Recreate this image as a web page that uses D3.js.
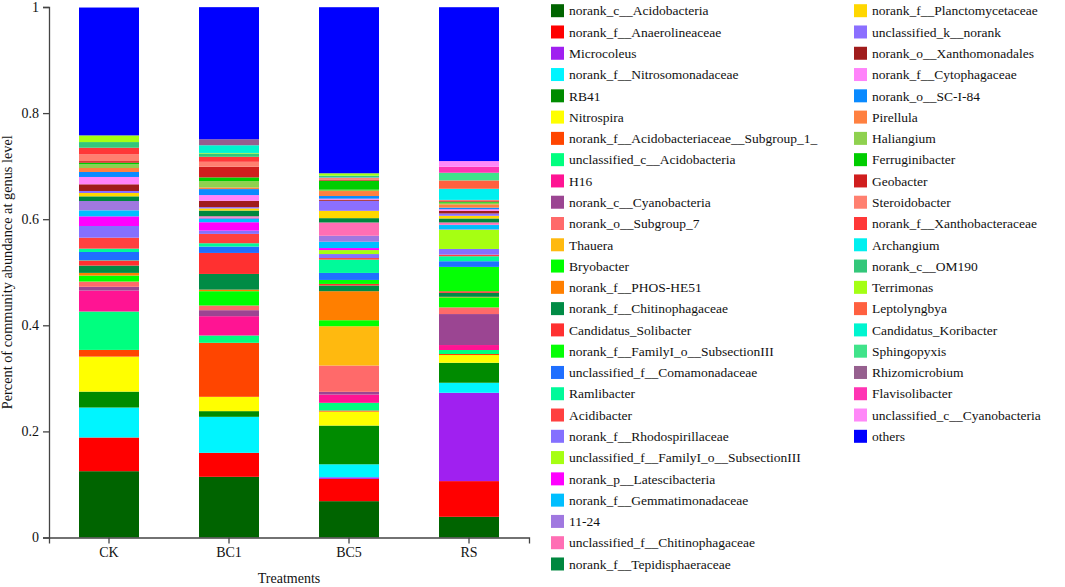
<!DOCTYPE html>
<html>
<head>
  <meta charset="utf-8">
  <title>Community abundance at genus level</title>
  <script src="https://d3js.org/d3.v7.min.js"></script>
  <style>
    body { margin: 0; background: #fff; }
    text { font-family: "Liberation Serif", "Times New Roman", serif; fill: #111; }
    .axis path, .axis line { stroke: #444; stroke-width: 1.3; }
    .axis text { font-size: 14px; }
  </style>
</head>
<body>
<script>
// Treatments on the x axis
var treatments = ["CK", "BC1", "BC5", "RS"];

// Genera, bottom to top of each bar (same order as the legend)
var genera = [
  "norank_c__Acidobacteria", "norank_f__Anaerolineaceae", "Microcoleus",
  "norank_f__Nitrosomonadaceae", "RB41", "Nitrospira",
  "norank_f__Acidobacteriaceae__Subgroup_1_", "unclassified_c__Acidobacteria", "H16",
  "norank_c__Cyanobacteria", "norank_o__Subgroup_7", "Thauera",
  "Bryobacter", "norank_f__PHOS-HE51", "norank_f__Chitinophagaceae",
  "Candidatus_Solibacter", "norank_f__FamilyI_o__SubsectionIII", "unclassified_f__Comamonadaceae",
  "Ramlibacter", "Acidibacter", "norank_f__Rhodospirillaceae",
  "unclassified_f__FamilyI_o__SubsectionIII", "norank_p__Latescibacteria", "norank_f__Gemmatimonadaceae",
  "11-24", "unclassified_f__Chitinophagaceae", "norank_f__Tepidisphaeraceae",
  "norank_f__Planctomycetaceae", "unclassified_k__norank", "norank_o__Xanthomonadales",
  "norank_f__Cytophagaceae", "norank_o__SC-I-84", "Pirellula",
  "Haliangium", "Ferruginibacter", "Geobacter",
  "Steroidobacter", "norank_f__Xanthobacteraceae", "Archangium",
  "norank_c__OM190", "Terrimonas", "Leptolyngbya",
  "Candidatus_Koribacter", "Sphingopyxis", "Rhizomicrobium",
  "Flavisolibacter", "unclassified_c__Cyanobacteria", "others"
];

// Relative abundance per treatment, in the order of `genera`
var ckValues = [
  0.125, 0.0635, 0, 0.0565, 0.030, 0.066,
  0.0126, 0.0724, 0.0396, 0.007, 0.0094, 0.0005,
  0.0113, 0.005, 0.0138, 0.0094, 0.0005, 0.0157,
  0.0063, 0.0207, 0.022, 0, 0.0182, 0.0113,
  0.0176, 0, 0.0088, 0.0063, 0.0038, 0.0126,
  0.0138, 0.0094, 0.0075, 0.007, 0.003, 0.003,
  0.0126, 0.0126, 0, 0.0107, 0.0126, 0,
  0, 0, 0, 0, 0, 0.241
];
var bc1Values = [
  0.1144, 0.0452, 0, 0.0679, 0.0107, 0.027,
  0.1018, 0.0138, 0.0364, 0.0113, 0.0088, 0,
  0.027, 0.003, 0.0295, 0.0396, 0, 0.012,
  0.0063, 0.0176, 0.0063, 0, 0.0157, 0.0063,
  0.0025, 0.0025, 0.0107, 0.004, 0.0025, 0.012,
  0.0107, 0.0113, 0.003, 0.012, 0.007, 0.020,
  0.0094, 0.0094, 0, 0.0063, 0.001, 0,
  0.0145, 0, 0.0113, 0, 0, 0.249
];
var bc5Values = [
  0.0685, 0.042, 0.003, 0.0245, 0.073, 0.0264,
  0.002, 0.0145, 0.0157, 0.005, 0.0496, 0.0741,
  0.0113, 0.0547, 0.0107, 0.003, 0.0075, 0.0132,
  0.0251, 0.003, 0.0075, 0.0075, 0.0038, 0.0119,
  0.0113, 0.025, 0.0082, 0.0138, 0.0189, 0.002,
  0.002, 0.005, 0.0094, 0.0025, 0.017, 0.002,
  0.0025, 0.0015, 0.001, 0.0025, 0.0045, 0,
  0, 0, 0, 0, 0, 0.313
];
var rsValues = [
  0.039, 0.0673, 0.1665, 0.0189, 0.0377, 0.0145,
  0.002, 0.0075, 0.0094, 0.0584, 0.0126, 0,
  0.0189, 0.001, 0.0075, 0.003, 0.0459, 0.0107,
  0.0094, 0.003, 0.0107, 0.0364, 0.0005, 0.0082,
  0.0005, 0.0044, 0.0075, 0.005, 0.0044, 0.005,
  0.003, 0.003, 0.0063, 0.003, 0.002, 0.002,
  0.0007, 0.0006, 0.021, 0, 0, 0.0157,
  0, 0.0145, 0, 0.0113, 0.0107, 0.290
];

// Palette, one colour per genus
var palette = [
  "#006400", "#FF0000", "#A020F0", "#00F5FF", "#008B00", "#FFFF00",
  "#FF4500", "#00FF7F", "#FF1493", "#9B4592", "#FF6A6A", "#FFB90F",
  "#00FF00", "#FF7F00", "#008B45", "#FF3030", "#05FF05", "#1F6FFF",
  "#00FA9A", "#FF4040", "#8470FF", "#A6FF12", "#FF00FF", "#00BFFF",
  "#A078E0", "#FF6EB4", "#00873F", "#FFD700", "#8B6FFF", "#A01C1C",
  "#FF83FA", "#0A8AFF", "#FF8040", "#8FD14F", "#00CD00", "#D01E1E",
  "#FF8070", "#FF3838", "#00F0F0", "#33C77A", "#A4FF14", "#FF6040",
  "#00F5D0", "#40E38A", "#96608F", "#FF34B3", "#FF88F8", "#0000FF"
];

var yTickValues = [0, 0.2, 0.4, 0.6, 0.8, 1];

var valuesByTreatment = [ckValues, bc1Values, bc5Values, rsValues];

// Build the table d3.stack wants
var table = treatments.map(function(t, i) {
  var row = { treatment: t };
  genera.forEach(function(g, j) { row[g] = valuesByTreatment[i][j]; });
  return row;
});

var width = 1065, height = 587;
var plot = { left: 49, right: 529, top: 7, bottom: 537.5 };

var svg = d3.select("body").append("svg")
  .attr("width", width)
  .attr("height", height);

var x = d3.scaleBand()
  .domain(treatments)
  .range([plot.left, plot.right])
  .paddingInner(0.5)
  .paddingOuter(0.25);

var y = d3.scaleLinear()
  .domain([0, 1])
  .range([plot.bottom, plot.top]);

var color = d3.scaleOrdinal().domain(genera).range(palette);

var series = d3.stack().keys(genera)(table);

// Bars
svg.append("g")
  .selectAll("g")
  .data(series)
  .join("g")
  .attr("fill", function(d) { return color(d.key); })
  .selectAll("rect")
  .data(function(d) { return d; })
  .join("rect")
  .attr("x", function(d) { return x(d.data.treatment); })
  .attr("width", x.bandwidth())
  .attr("y", function(d) { return y(d[1]); })
  .attr("height", function(d) { return Math.max(0, y(d[0]) - y(d[1])); });

// Axes
svg.append("g")
  .attr("class", "axis")
  .attr("transform", "translate(0," + plot.bottom + ")")
  .call(d3.axisBottom(x).tickSize(6).tickPadding(4))
  .selectAll("text").attr("dy", "0.71em");

svg.append("g")
  .attr("class", "axis")
  .attr("transform", "translate(" + plot.left + ",0)")
  .call(d3.axisLeft(y).tickValues(yTickValues).tickFormat(function(d) { return String(d); }).tickSize(6).tickPadding(4));

// Axis titles
svg.append("text")
  .attr("x", (plot.left + plot.right) / 2)
  .attr("y", 583)
  .attr("text-anchor", "middle")
  .style("font-size", "14px")
  .text("Treatments");

svg.append("text")
  .attr("transform", "translate(12," + ((plot.top + plot.bottom) / 2) + ") rotate(-90)")
  .attr("text-anchor", "middle")
  .style("font-size", "14.3px")
  .text("Percent of community abundance at genus level");

// Legend, two columns
var perColumn = 27;
var legend = svg.append("g")
  .selectAll("g")
  .data(genera)
  .join("g")
  .attr("transform", function(d, i) {
    var col = Math.floor(i / perColumn);
    var row = i % perColumn;
    return "translate(" + (551 + col * 303) + "," + (10.7 + row * 21.28) + ")";
  });

legend.append("rect")
  .attr("x", 0)
  .attr("y", -6.5)
  .attr("width", 13)
  .attr("height", 13)
  .attr("fill", function(d) { return color(d); });

legend.append("text")
  .attr("x", 18)
  .attr("y", 0)
  .attr("dy", "0.35em")
  .style("font-size", "13.5px")
  .text(function(d) { return d; });
</script>
</body>
</html>
